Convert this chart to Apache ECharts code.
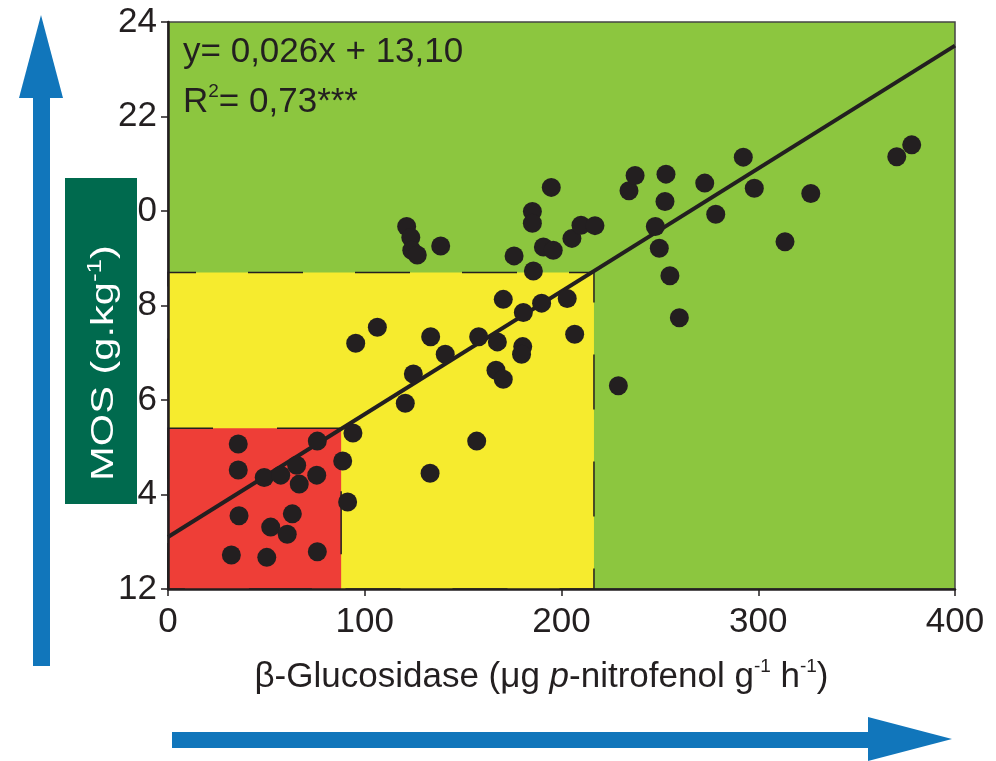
<!DOCTYPE html>
<html>
<head>
<meta charset="utf-8">
<script src="https://cdn.jsdelivr.net/npm/echarts@6/dist/echarts.min.js"></script>
<style>
html,body{margin:0;padding:0;background:#fff;}
#chart{width:996px;height:761px;}
</style>
</head>
<body>
<div id="chart"></div>
<script>
// beta-glucosidase (x) and MOS (y)
var glucosidase = [32.2, 50.2, 75.9, 36.1, 52.2, 60.6, 63.2, 35.7, 35.7, 48.9, 57.3, 65.4, 66.7, 75.6, 75.9, 88.8, 91.3, 94.0,
  95.4, 106.4, 120.6, 124.7, 133.5, 140.9, 133.2, 156.9, 157.9, 167.4, 166.7, 170.4, 180.3, 179.7, 170.4, 180.6, 189.9, 202.9, 206.7,
  121.3, 123.4, 123.9, 126.7, 138.6, 175.9, 185.7, 185.2, 185.2, 190.8, 195.8, 194.8, 205.3, 209.9, 217.0,
  228.9, 234.3, 237.4, 253.1, 252.6, 247.7, 249.7, 255.1, 259.9, 272.8, 278.4, 292.4, 298.0, 313.6, 326.7, 370.4, 378.0];
var mos = [12.72, 12.67, 12.79, 13.55, 13.31, 13.16, 13.59, 14.52, 15.07, 14.36, 14.41, 14.62, 14.22, 14.41, 15.13, 14.71, 13.84, 15.30,
  17.20, 17.54, 15.93, 16.55, 17.34, 16.97, 14.45, 15.13, 17.34, 17.23, 16.63, 16.44, 17.13, 16.97, 18.13, 17.85, 18.05, 18.15, 17.39,
  19.67, 19.44, 19.17, 19.07, 19.26, 19.05, 18.73, 19.99, 19.74, 19.24, 19.17, 20.50, 19.42, 19.70, 19.69,
  16.30, 20.43, 20.75, 20.78, 20.20, 19.67, 19.21, 18.63, 17.74, 20.59, 19.93, 21.14, 20.48, 19.35, 20.37, 21.15, 21.40];

// regression line y = 0,026x + 13,10 (end points)
var fitLine = [[0, 13.10], [400, 23.50]];

// class limits (x, y upper corner of each zone)
var lowZone = [88, 15.4];
var midZone = [216.5, 18.7];

var xTicks = [0, 100, 200, 300, 400];
var yTicks = [12, 14, 16, 18, 20, 22, 24];

var points = [];
for (var i = 0; i < glucosidase.length; i++) {
  points.push([glucosidase[i], mos[i]]);
}

var ink = '#231f20';
var font = 'Liberation Sans';

var chart = echarts.init(document.getElementById('chart'));

chart.setOption({
  animation: false,
  grid: {
    left: 168, right: 41, top: 22, bottom: 172,
    show: true,
    backgroundColor: '#8cc63f',
    borderColor: '#444',
    borderWidth: 1.5
  },
  xAxis: {
    type: 'value',
    min: xTicks[0], max: xTicks[xTicks.length - 1], interval: 100,
    z: 10,
    axisLine: { show: true, onZero: false, lineStyle: { color: ink, width: 2.5 } },
    axisTick: { show: true, inside: false, length: 7, lineStyle: { color: ink, width: 1.5 } },
    splitLine: { show: false },
    axisLabel: { color: ink, fontFamily: font, fontSize: 35, margin: 16 },
    name: '{n|β-Glucosidase (μg }{i|p}{n|-nitrofenol g}{s|-1}{n| h}{s|-1}{n|)}',
    nameLocation: 'middle',
    nameGap: 68,
    nameTextStyle: {
      padding: [0, 40, 0, 0],
      rich: {
        n: { fontFamily: font, fontSize: 35, color: ink, lineHeight: 40 },
        i: { fontFamily: font, fontSize: 35, color: ink, fontStyle: 'italic', lineHeight: 40 },
        s: { fontFamily: font, fontSize: 19, color: ink, verticalAlign: 'top', lineHeight: 40 }
      }
    }
  },
  yAxis: {
    type: 'value',
    min: yTicks[0], max: yTicks[yTicks.length - 1], interval: 2,
    z: 10,
    axisLine: { show: true, onZero: false, lineStyle: { color: ink, width: 2.5 } },
    axisTick: { show: true, inside: false, length: 7, lineStyle: { color: ink, width: 1.5 } },
    splitLine: { show: false },
    axisLabel: { color: ink, fontFamily: font, fontSize: 35, margin: 11 }
  },
  series: [
    {
      type: 'line',
      data: fitLine,
      symbol: 'none',
      z: 3,
      lineStyle: { color: ink, width: 4 },
      markArea: {
        silent: true,
        data: [
          [{ coord: [0, midZone[1]], itemStyle: { color: '#f6eb2e', borderColor: ink, borderWidth: 1.5, borderType: [55, 52], borderDashOffset: 27 } },
           { coord: [midZone[0], 12] }],
          [{ coord: [0, lowZone[1]], itemStyle: { color: '#ee3e37', borderColor: ink, borderWidth: 1.5, borderType: [63, 64], borderDashOffset: 18 } },
           { coord: [lowZone[0], 12] }]
        ]
      }
    },
    {
      type: 'scatter',
      data: points,
      symbol: 'circle',
      symbolSize: 19,
      z: 4,
      itemStyle: { color: ink, opacity: 1 }
    }
  ],
  graphic: [
    // blue arrows
    { type: 'rect', z: 20, shape: { x: 33, y: 97, width: 17, height: 569 }, style: { fill: '#1176bb' } },
    { type: 'polygon', z: 20, shape: { points: [[19, 98], [63, 98], [41, 15]] }, style: { fill: '#1176bb' } },
    { type: 'rect', z: 20, shape: { x: 172, y: 732, width: 697, height: 16 }, style: { fill: '#1176bb' } },
    { type: 'polygon', z: 20, shape: { points: [[868, 717], [868, 761], [952, 739]] }, style: { fill: '#1176bb' } },
    // green label box
    { type: 'rect', z: 30, shape: { x: 65, y: 178, width: 72, height: 326 }, style: { fill: '#006a4e' } },
    {
      type: 'text', z: 31, x: 104, y: 363, rotation: Math.PI / 2, scaleX: 1.3, scaleY: 1,
      style: {
        text: '{n|MOS (g.kg}{s|-1}{n|)}',
        align: 'center', verticalAlign: 'middle',
        rich: {
          n: { fontFamily: font, fontSize: 32, fill: '#fff', lineHeight: 38 },
          s: { fontFamily: font, fontSize: 20, fill: '#fff', verticalAlign: 'top', lineHeight: 34 }
        }
      }
    },
    // equation
    {
      type: 'text', z: 31, x: 183, y: 52,
      style: { text: 'y= 0,026x + 13,10', fontFamily: font, fontSize: 35, fill: ink, align: 'left', verticalAlign: 'middle' }
    },
    {
      type: 'text', z: 31, x: 183, y: 102,
      style: {
        text: '{n|R}{s|2}{n|= 0,73***}',
        align: 'left', verticalAlign: 'middle',
        rich: {
          n: { fontFamily: font, fontSize: 35, fill: ink, lineHeight: 40 },
          s: { fontFamily: font, fontSize: 19, fill: ink, verticalAlign: 'top', lineHeight: 40 }
        }
      }
    }
  ]
});
</script>
</body>
</html>
